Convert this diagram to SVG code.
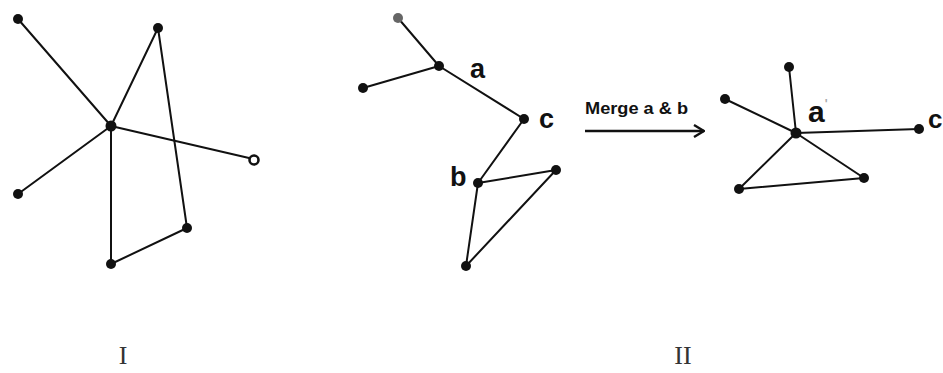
<svg xmlns="http://www.w3.org/2000/svg" width="943" height="373" viewBox="0 0 943 373">
<defs>
<style>
.e{stroke:#111;stroke-width:2;fill:none;stroke-linecap:round}
.n{fill:#111}
.lbl{font-family:"Liberation Sans",Arial,sans-serif;font-weight:bold;fill:#111}
.rom{font-family:"Liberation Serif","Times New Roman",serif;fill:#333;font-size:26px}
</style>
<marker id="ah" viewBox="0 0 12 14" refX="11" refY="7" markerWidth="12" markerHeight="14" markerUnits="userSpaceOnUse" orient="auto">
<path d="M1,1 L11,7 L1,13" fill="none" stroke="#111" stroke-width="2.4"/>
</marker>
</defs>
<rect width="943" height="373" fill="#fff"/>
<g id="connectors">
<line class="e" x1="18" y1="19" x2="111" y2="126"/>
<line class="e" x1="111" y1="126" x2="158" y2="28"/>
<line class="e" x1="158" y1="28" x2="187" y2="228"/>
<line class="e" x1="111" y1="126" x2="249" y2="158"/>
<line class="e" x1="111" y1="126" x2="18" y2="194"/>
<line class="e" x1="111" y1="126" x2="111" y2="264"/>
<line class="e" x1="111" y1="264" x2="187" y2="228"/>
<line class="e" x1="398" y1="18" x2="439" y2="66"/>
<line class="e" x1="363" y1="88" x2="439" y2="66"/>
<line class="e" x1="439" y1="66" x2="524" y2="119"/>
<line class="e" x1="524" y1="119" x2="478" y2="183"/>
<line class="e" x1="478" y1="183" x2="556" y2="170"/>
<line class="e" x1="478" y1="183" x2="466" y2="266"/>
<line class="e" x1="466" y1="266" x2="556" y2="170"/>
<line id="arrow" x1="585" y1="131" x2="704" y2="131" stroke="#111" stroke-width="2.6" marker-end="url(#ah)"/>
<line class="e" x1="789" y1="67" x2="796" y2="133"/>
<line class="e" x1="725" y1="99" x2="796" y2="133"/>
<line class="e" x1="796" y1="133" x2="919" y2="129"/>
<line class="e" x1="796" y1="133" x2="739" y2="189"/>
<line class="e" x1="796" y1="133" x2="864" y2="178"/>
<line class="e" x1="739" y1="189" x2="864" y2="178"/>
</g>
<g id="g1-n1"><circle class="n" cx="18" cy="19" r="5"/></g>
<g id="g1-n2"><circle class="n" cx="158" cy="28" r="5"/></g>
<g id="g1-hub"><circle class="n" cx="111" cy="126" r="5.5"/></g>
<g id="g1-o"><circle cx="254" cy="160" r="4.5" fill="#fff" stroke="#111" stroke-width="2.6"/></g>
<g id="g1-n4"><circle class="n" cx="18" cy="194" r="5"/></g>
<g id="g1-n5"><circle class="n" cx="187" cy="228" r="5"/></g>
<g id="g1-n6"><circle class="n" cx="111" cy="264" r="5"/></g>

<g id="g2-top"><circle cx="398" cy="18" r="5" fill="#666"/></g>
<g id="g2-a"><circle class="n" cx="439" cy="66" r="5"/><text class="lbl" x="470" y="78" font-size="27">a</text></g>
<g id="g2-left"><circle class="n" cx="363" cy="88" r="5"/></g>
<g id="g2-c"><circle class="n" cx="524" cy="119" r="5"/><text class="lbl" x="539" y="128" font-size="27">c</text></g>
<g id="g2-b"><circle class="n" cx="478" cy="183" r="5"/><text class="lbl" x="450" y="186" font-size="27">b</text></g>
<g id="g2-right"><circle class="n" cx="556" cy="170" r="5"/></g>
<g id="g2-bottom"><circle class="n" cx="466" cy="266" r="5"/></g>

<g id="merge-label"><text class="lbl" x="585" y="114" font-size="16" textLength="103" lengthAdjust="spacingAndGlyphs">Merge a &amp; b</text></g>

<g id="g3-top"><circle class="n" cx="789" cy="67" r="5"/></g>
<g id="g3-left"><circle class="n" cx="725" cy="99" r="5"/></g>
<g id="g3-a"><circle class="n" cx="796" cy="133" r="5.5"/><text class="lbl" x="808" y="122" font-size="30">a<tspan font-size="12" fill="#aaa" dy="-14">'</tspan></text></g>
<g id="g3-c"><circle class="n" cx="919" cy="129" r="5"/><text class="lbl" x="928" y="128" font-size="26">c</text></g>
<g id="g3-br"><circle class="n" cx="864" cy="178" r="5"/></g>
<g id="g3-bl"><circle class="n" cx="739" cy="189" r="5"/></g>

<g id="captions">
<text class="rom" x="123" y="364" text-anchor="middle">I</text>
<text class="rom" x="683" y="364" text-anchor="middle">II</text>
</g>
</svg>
